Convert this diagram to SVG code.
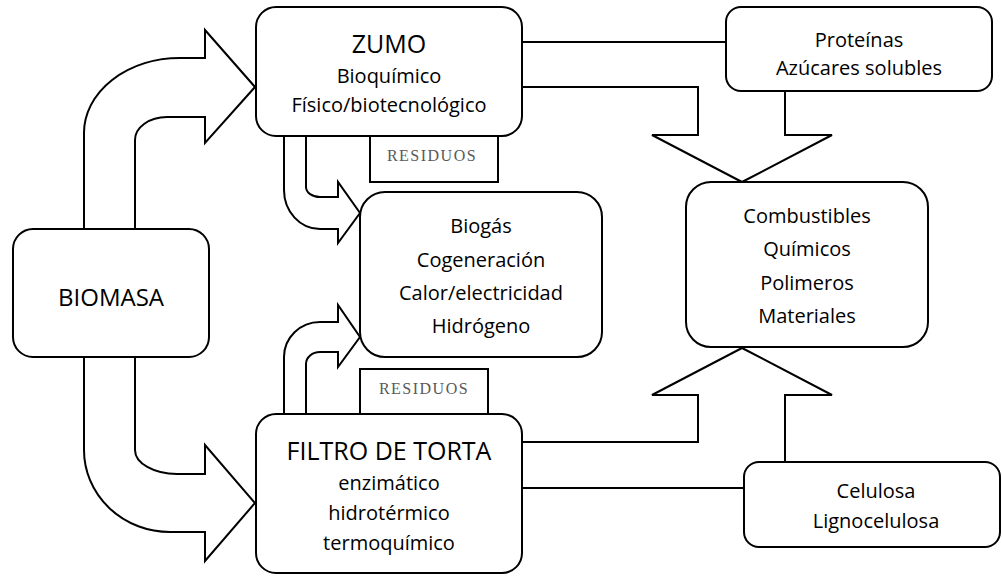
<svg xmlns="http://www.w3.org/2000/svg" width="1002" height="576" viewBox="0 0 1002 576">
<style>
.box{fill:#fff;stroke:#000;stroke-width:2}
.arr{fill:#fff;stroke:#000;stroke-width:2;stroke-linejoin:miter}
.ln{fill:none;stroke:#000;stroke-width:2}
.t{font-family:"Open Sans","Liberation Sans",sans-serif;font-size:20px;fill:#000;text-anchor:middle}
.h{font-size:25px}
.res{font-family:"Liberation Serif",serif;font-size:16px;fill:#595959;text-anchor:middle;letter-spacing:1.5px}
</style>
<rect width="1002" height="576" fill="#fff"/>
<g id="connectors">
<path class="arr" d="M84,229 V133 A96,75 0 0 1 180,58 H205 V30 L255,87 L205,143 V117 H167 A32,23 0 0 0 135,140 V229 Z"/>
<path class="arr" d="M84,357 V450 A86,82 0 0 0 170,532 H205 V561 L255,503 L205,445 V474 H177 A42,24 0 0 1 135,450 V357 Z"/>
<path class="arr" d="M284,135 V190 A36,39 0 0 0 320,229 H338 V243 L360,213 L338,182 V197 H320 A14,10 0 0 1 306,187 V135 Z"/>
<path class="arr" d="M284,415 V357 A36,35 0 0 1 320,322 H338 V305 L360,337 L338,367 V352 H320 A14,12 0 0 0 306,364 V415 Z"/>
<path class="ln" d="M522,42 H726"/>
<path class="ln" d="M522,87 H698 V135 H652 L742,182 L832,135 H785 V91"/>
<path class="ln" d="M522,442 H698 V395 H652 L742,348 L832,395 H785 V462"/>
<path class="ln" d="M522,488 H744"/>
</g>
<g id="residuos1">
<rect class="box" x="370" y="120" width="128" height="62"/>
<text class="res" x="432" y="161">RESIDUOS</text>
</g>
<g id="residuos2">
<rect class="box" x="360" y="369" width="128" height="56"/>
<text class="res" x="424" y="394">RESIDUOS</text>
</g>
<g id="biomasa">
<rect class="box" x="13" y="229" width="196" height="128" rx="20"/>
<text class="t h" x="111" y="306" style="font-size:24px">BIOMASA</text>
</g>
<g id="zumo">
<rect class="box" x="256" y="7" width="266" height="129" rx="20"/>
<text class="t h" x="389" y="53">ZUMO</text>
<text class="t" x="389" y="83">Bioquímico</text>
<text class="t" x="389" y="112">Físico/biotecnológico</text>
</g>
<g id="filtro">
<rect class="box" x="256" y="414" width="266" height="159" rx="20"/>
<text class="t h" x="389" y="460">FILTRO DE TORTA</text>
<text class="t" x="389" y="490">enzimático</text>
<text class="t" x="389" y="520">hidrotérmico</text>
<text class="t" x="389" y="550">termoquímico</text>
</g>
<g id="energia">
<rect class="box" x="360" y="192" width="242" height="165" rx="25"/>
<text class="t" x="481" y="233">Biogás</text>
<text class="t" x="481" y="267">Cogeneración</text>
<text class="t" x="481" y="300">Calor/electricidad</text>
<text class="t" x="481" y="333">Hidrógeno</text>
</g>
<g id="proteinas">
<rect class="box" x="726" y="7" width="266" height="84" rx="15"/>
<text class="t" x="859" y="47">Proteínas</text>
<text class="t" x="859" y="75">Azúcares solubles</text>
</g>
<g id="productos">
<rect class="box" x="686" y="182" width="242" height="165" rx="25"/>
<text class="t" x="807" y="223">Combustibles</text>
<text class="t" x="807" y="256">Químicos</text>
<text class="t" x="807" y="290">Polimeros</text>
<text class="t" x="807" y="323">Materiales</text>
</g>
<g id="celulosa">
<rect class="box" x="744" y="462" width="256" height="85" rx="15"/>
<text class="t" x="876" y="498">Celulosa</text>
<text class="t" x="876" y="528">Lignocelulosa</text>
</g>
</svg>
